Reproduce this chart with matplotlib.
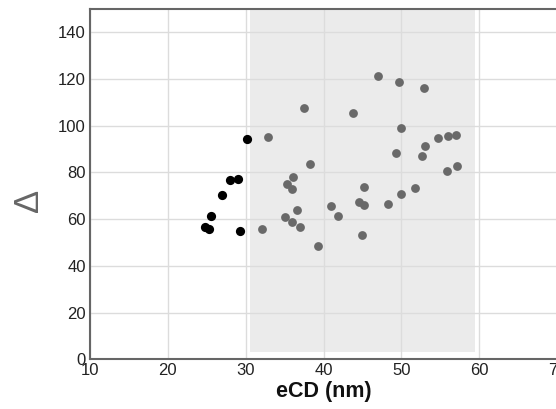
import matplotlib
matplotlib.use("Agg")
import matplotlib.pyplot as plt

plt.rcParams["font.family"] = ["Liberation Sans", "DejaVu Sans"]

# black points (eCD < ~30 nm)
x_black = [24.8, 25.25, 25.6, 26.9, 27.95, 28.95, 29.3, 30.2]
y_black = [56.7, 55.8, 61.4, 70.5, 76.8, 77.2, 54.9, 94.5]

# grey points (inside shaded window)
x_grey = [32.1, 32.9, 35.05, 35.3, 35.95, 36.0, 36.1, 36.55, 37.0, 37.55,
          38.2, 39.3, 40.9, 41.8, 43.8, 44.5, 44.95, 45.15, 45.25, 47.05,
          48.25, 49.35, 49.65, 49.9, 50.0, 51.75, 52.65, 52.85, 53.0, 54.65,
          55.85, 56.05, 57.0, 57.15]
y_grey = [55.9, 95.3, 61.1, 74.9, 58.7, 72.8, 77.9, 64.1, 56.8, 107.5,
          83.6, 48.7, 65.5, 61.2, 105.4, 67.4, 53.4, 66.0, 73.9, 121.3,
          66.4, 88.4, 118.6, 98.9, 70.9, 73.5, 87.1, 116.3, 91.3, 94.6,
          80.8, 95.8, 96.1, 82.6]

shade_x = (30.5, 59.5)
shade_y = (3, 150)

xticks = [10, 20, 30, 40, 50, 60, 70]
yticks = [0, 20, 40, 60, 80, 100, 120, 140]

fig = plt.figure(figsize=(5.56, 4.09), dpi=100)
ax = fig.add_axes([0.1619, 0.1215, 0.84, 0.8565])

ax.fill_between(shade_x, shade_y[0], shade_y[1], color='#ebebeb', lw=0, zorder=0.2)
ax.scatter(x_grey, y_grey, s=40, c='#696969', lw=0, zorder=3)
ax.scatter(x_black, y_black, s=44, c='black', lw=0, zorder=4)

ax.set_xlim(10, 70)
ax.set_ylim(0, 150)
ax.set_xticks(xticks)
ax.set_yticks(yticks)
ax.set_axisbelow(True)
ax.grid(color='#dcdcdc', linewidth=1)
ax.tick_params(axis='both', length=0, pad=3, labelsize=12, labelcolor='#222222')

for side in ['left', 'bottom', 'top']:
    ax.spines[side].set_color('#666666')
    ax.spines[side].set_linewidth(1.5)
ax.spines['right'].set_visible(False)

ax.set_xlabel('eCD (nm)', fontsize=15.5, fontweight='bold', color='#111111', labelpad=2)
ax.set_ylabel('Δ', fontsize=25, color='#666666', va='center')
ax.yaxis.set_label_coords(-0.132, 0.453)

fig.savefig('out.png', dpi=100)
